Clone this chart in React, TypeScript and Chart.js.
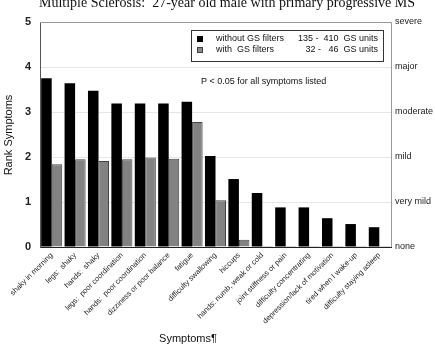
import React, { useEffect, useRef } from "react";
import { Chart, registerables } from "chart.js";

Chart.register(...registerables);

const categories = [
  "shaky in morning",
  "legs:  shaky",
  "hands:  shaky",
  "legs:  poor coordination",
  "hands:  poor coordination",
  "dizziness or poor balance",
  "fatigue",
  "difficulty swallowing",
  "hiccups",
  "hands: numb, weak or cold",
  "joint stiffness or pain",
  "difficulty concentrating",
  "depression/lack of motivation",
  "tired when I wake-up",
  "difficulty staying asleep",
];
const withoutFilters = [3.75, 3.64, 3.47, 3.19, 3.19, 3.19, 3.23, 2.02, 1.51, 1.2, 0.88, 0.88, 0.64, 0.51, 0.44];
const withFilters = [1.84, 1.95, 1.91, 1.95, 1.99, 1.96, 2.78, 1.04, 0.16, 0.02, 0.02, 0.02, 0.02, 0.02, 0.02];
const rightLabels = ["none", "very mild", "mild", "moderate", "major", "severe"];
const titleText = "Multiple Sclerosis:  27-year old male with primary progressive MS";
const legendRows = [
  { name: "without GS filters", range: "135 -  410  GS units" },
  { name: "with  GS filters", range: "32 -   46  GS units" },
];
const noteText = "P < 0.05 for all symptoms listed";
const yTitle = "Rank Symptoms";
const xTitle = "Symptoms\u00b6";

const FONT = "Arial, 'Liberation Sans', sans-serif";

export default function App() {
  const ref = useRef<HTMLCanvasElement>(null);
  useEffect(() => {
    const deco = {
      id: "deco",
      afterDraw(chart: any) {
        const ctx = chart.ctx;
        const a = chart.chartArea;
        ctx.save();
        // frame
        ctx.strokeStyle = "#999";
        ctx.lineWidth = 1;
        ctx.beginPath();
        ctx.moveTo(a.left, a.top + 0.5);
        ctx.lineTo(a.right + 0.5, a.top + 0.5);
        ctx.lineTo(a.right + 0.5, a.bottom);
        ctx.stroke();
        // title
        ctx.fillStyle = "#111";
        ctx.font = "14px 'Liberation Serif', 'Times New Roman', serif";
        ctx.textAlign = "center";
        ctx.textBaseline = "alphabetic";
        ctx.fillText(titleText, 227, 7);
        // legend box
        ctx.fillStyle = "#fff";
        ctx.fillRect(191, 30, 193, 32);
        ctx.strokeStyle = "#333";
        ctx.strokeRect(191.5, 30.5, 192, 31);
        ctx.font = "9px " + FONT;
        ctx.textBaseline = "middle";
        const rowsY = [39, 50];
        legendRows.forEach((r, i) => {
          const y = rowsY[i];
          if (i === 0) {
            ctx.fillStyle = "#000";
            ctx.fillRect(197, y - 3, 6, 6);
          } else {
            ctx.fillStyle = "#888";
            ctx.fillRect(197, y - 3, 6, 6);
            ctx.strokeStyle = "#444";
            ctx.strokeRect(197.5, y - 2.5, 5, 5);
          }
          ctx.fillStyle = "#111";
          ctx.textAlign = "left";
          ctx.fillText(r.name, 216, y);
          ctx.textAlign = "right";
          ctx.fillText(r.range, 378, y);
        });
        // note
        ctx.textAlign = "left";
        ctx.fillText(noteText, 201, 82);
        // y title
        ctx.save();
        ctx.translate(9, 135);
        ctx.rotate(-Math.PI / 2);
        ctx.textAlign = "center";
        ctx.font = "11px " + FONT;
        ctx.fillText(yTitle, 0, 0);
        ctx.restore();
        // x title
        ctx.font = "11px " + FONT;
        ctx.textAlign = "center";
        ctx.fillText(xTitle, 188, 339);
        ctx.restore();
      },
    };
    const chart = new Chart(ref.current!, {
      type: "bar",
      data: {
        labels: categories,
        datasets: [
          {
            label: "without GS filters",
            data: withoutFilters,
            backgroundColor: "#000",
            borderColor: "#000",
            borderWidth: 0,
            yAxisID: "y",
          },
          {
            label: "with GS filters",
            data: withFilters,
            backgroundColor: "#828282",
            borderColor: "#444",
            borderWidth: 1,
            yAxisID: "y",
          },
        ],
      },
      options: {
        animation: false,
        responsive: false,
        layout: { padding: { top: 22, left: 0, right: 0, bottom: 0 } },
        plugins: { legend: { display: false }, tooltip: { enabled: false }, title: { display: false } },
        datasets: { bar: { categoryPercentage: 0.9, barPercentage: 1 } },
        scales: {
          x: {
            grid: { display: false, drawTicks: false },
            border: { color: "#222", width: 1 },
            ticks: {
              autoSkip: false,
              maxRotation: 45,
              minRotation: 45,
              color: "#222",
              font: { family: FONT, size: 7.5 },
              padding: 4,
            },
            afterFit: (s: any) => {
              s.height = 98;
            },
          },
          y: {
            position: "left",
            min: 0,
            max: 5,
            grid: { color: "#e6e6e6", drawTicks: false },
            border: { color: "#555", width: 1 },
            ticks: {
              stepSize: 1,
              color: "#222",
              font: { family: FONT, size: 11, weight: "bold" },
              padding: 9,
            },
            afterFit: (s: any) => {
              s.width = 40;
            },
          },
          y2: {
            position: "right",
            min: 0,
            max: 5,
            grid: { display: false, drawTicks: false },
            border: { display: false },
            ticks: {
              stepSize: 1,
              color: "#222",
              font: { family: FONT, size: 9 },
              padding: 4,
              callback: (v: any) => rightLabels[Math.round(Number(v))],
            },
            afterFit: (s: any) => {
              s.width = 44;
            },
          },
        },
      },
      plugins: [deco],
    });
    return () => chart.destroy();
  }, []);
  return (
    <div style={{ position: "absolute", left: 0, top: 0, width: 435, height: 345, background: "#fff" }}>
      <canvas ref={ref} width={435} height={345} style={{ width: 435, height: 345 }} />
    </div>
  );
}
